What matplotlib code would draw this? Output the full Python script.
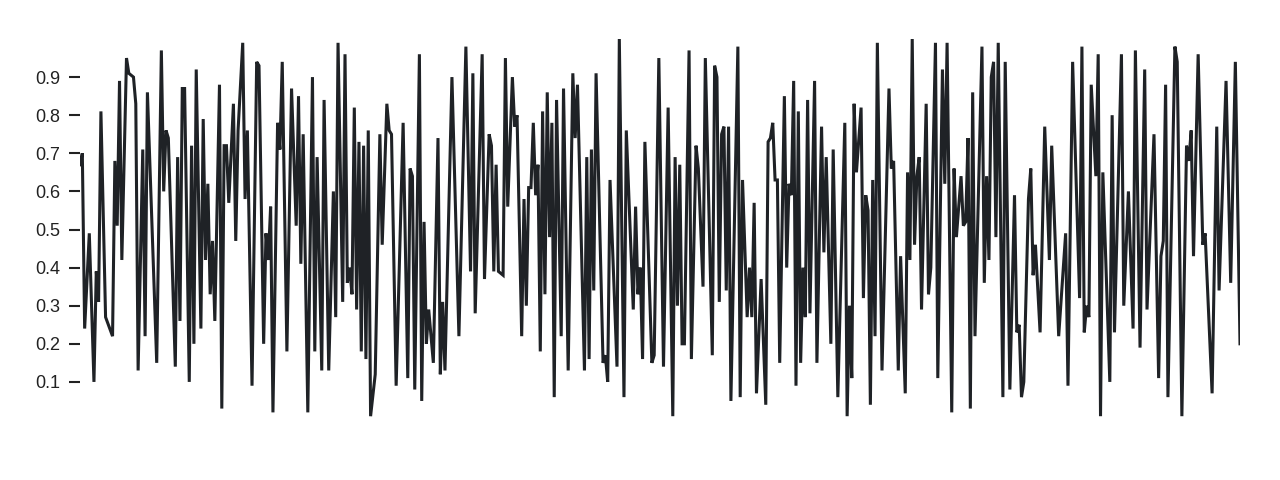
import numpy as np
import matplotlib
matplotlib.use('Agg')
import matplotlib.pyplot as plt

# sample index -> value (peaks and troughs)
idx = [0, 1, 2, 4, 6, 7, 8, 9, 11, 14, 15, 16, 17, 18, 20, 21, 23, 24, 25, 27,
       28, 29, 33, 35, 36, 37, 38,
       41, 42, 43, 44, 45, 47, 48, 49, 50, 52, 53, 54, 55, 56, 57, 58, 60, 61,
       62, 63, 64, 66, 67, 68, 70, 71, 72, 74, 76, 77, 79, 80, 81, 82,
       83, 85, 86, 87, 89, 91, 93, 94, 95, 96, 98, 100, 101, 102, 104, 105,
       107, 109, 110, 111, 113, 114, 115, 116, 117, 118, 119, 120, 121, 122,
       123, 124,
       125, 127, 129, 130, 132, 133, 134, 136, 139, 141, 142, 143, 144, 146,
       147, 148, 149, 150, 152, 154, 155, 156, 157, 160, 163,
       166, 168, 169, 170, 173, 174, 176, 177, 178, 179, 180, 182, 183, 184,
       186, 187, 188, 190, 191, 192, 193, 194, 195, 196, 197, 198, 199, 200,
       201, 202, 203, 204, 205, 207, 208,
       210, 212, 213, 214, 217, 218, 219, 220, 221, 222, 225, 226, 227, 228,
       231, 232, 234, 235, 238, 239, 240, 241, 242, 243, 246, 247, 249,
       251, 253, 255, 256, 257, 258, 259, 260, 262, 263, 265, 266, 268, 269,
       272, 273, 274, 275, 276, 277, 278, 279, 280, 283, 284, 285, 287, 288,
       289, 290, 291,
       293, 295, 296, 297, 298, 299, 300, 301, 303, 304, 305, 306, 307, 308,
       309, 310, 311, 312, 313, 314, 316, 317, 319, 320, 321, 323, 324, 326,
       329, 330, 331, 332, 333, 334,
       336, 337, 338, 339, 340, 341, 342, 343, 345, 348, 349, 350, 352, 353,
       355, 356, 357, 358, 359, 360, 361, 362, 364, 365, 366, 368, 369, 371,
       372, 373, 375, 376,
       377, 379, 380, 381, 382, 383, 384, 385, 388, 389, 390, 391, 392, 393,
       394, 395, 397, 398, 400, 402, 403, 404, 405, 406, 408, 409, 410, 411,
       413, 415, 417, 418,
       421, 424, 425, 427, 430, 431, 432, 433, 434, 435, 437, 438, 439, 440,
       443, 444, 445, 448, 449, 451, 453, 454, 456, 458, 459,
       462, 464, 465, 466, 467, 468, 471, 472, 474, 476, 477, 478, 479, 481,
       483, 484, 487, 489, 490, 493, 495, 497, 499]

values = [0.67, 0.70, 0.24, 0.49, 0.10, 0.39, 0.31, 0.81, 0.27, 0.22, 0.68,
          0.51, 0.89, 0.42, 0.95, 0.91, 0.90, 0.83, 0.13, 0.71,
          0.22, 0.86, 0.15, 0.97, 0.60, 0.76, 0.74,
          0.14, 0.69, 0.26, 0.87, 0.87, 0.10, 0.72, 0.20, 0.92, 0.24, 0.79,
          0.42, 0.62, 0.33, 0.47, 0.26, 0.88, 0.03,
          0.72, 0.72, 0.57, 0.83, 0.47, 0.76, 0.99, 0.58, 0.76, 0.09, 0.94,
          0.93, 0.20, 0.49, 0.42, 0.56,
          0.02, 0.78, 0.71, 0.94, 0.18, 0.87, 0.51, 0.85, 0.41, 0.75, 0.02,
          0.90, 0.18, 0.69, 0.13, 0.84,
          0.13, 0.60, 0.27, 0.99, 0.31, 0.96, 0.36, 0.40, 0.33, 0.82, 0.29,
          0.73, 0.18, 0.72,
          0.16, 0.76,
          0.01, 0.12, 0.75, 0.46, 0.83, 0.76, 0.75, 0.09, 0.78, 0.11, 0.66,
          0.64, 0.08, 0.96,
          0.05, 0.52, 0.20, 0.29, 0.15, 0.74, 0.12, 0.31, 0.13, 0.90, 0.22,
          0.98, 0.39, 0.91, 0.28, 0.96, 0.37, 0.75, 0.72, 0.39, 0.67, 0.39,
          0.38, 0.95, 0.56,
          0.90, 0.77, 0.80, 0.22, 0.58, 0.30, 0.61, 0.61, 0.78, 0.59, 0.67,
          0.18, 0.81, 0.33,
          0.86, 0.48, 0.78, 0.06, 0.84, 0.22, 0.87,
          0.13, 0.91, 0.74, 0.88, 0.13, 0.69, 0.16, 0.71, 0.34, 0.91, 0.15,
          0.17, 0.10, 0.63,
          0.14, 1.00, 0.06, 0.76, 0.29, 0.56, 0.33, 0.40, 0.16, 0.73, 0.15,
          0.17, 0.95,
          0.14, 0.82, 0.01, 0.69, 0.30, 0.67, 0.20, 0.20, 0.97, 0.16, 0.72,
          0.66, 0.35, 0.95,
          0.17, 0.93, 0.90, 0.31, 0.75, 0.77, 0.34, 0.77, 0.05, 0.98, 0.06,
          0.63, 0.27, 0.40,
          0.27, 0.57, 0.07,
          0.37, 0.04, 0.73, 0.74, 0.78, 0.63, 0.63, 0.15, 0.85, 0.40, 0.62,
          0.59, 0.89, 0.09,
          0.81, 0.15, 0.40, 0.27, 0.84, 0.28, 0.89, 0.15, 0.77, 0.44, 0.69,
          0.20, 0.71, 0.06,
          0.78, 0.01, 0.30, 0.11, 0.83, 0.65,
          0.82, 0.32, 0.59, 0.55, 0.04, 0.63, 0.22, 0.99, 0.13, 0.87, 0.66,
          0.68, 0.13, 0.43,
          0.07, 0.65, 0.42, 1.00, 0.46, 0.64, 0.69, 0.29, 0.83, 0.33, 0.40,
          0.99, 0.11, 0.92,
          0.62, 0.99, 0.02, 0.66,
          0.48, 0.64, 0.51, 0.52, 0.74, 0.03, 0.86, 0.22, 0.98, 0.36, 0.64,
          0.42, 0.90, 0.94,
          0.48, 0.99, 0.06, 0.94, 0.08, 0.59, 0.23, 0.25, 0.06, 0.10, 0.58,
          0.66, 0.38, 0.46,
          0.23, 0.77, 0.42, 0.72,
          0.22, 0.49, 0.09, 0.94, 0.32, 0.98, 0.23, 0.30, 0.27, 0.88, 0.64,
          0.96, 0.01, 0.65,
          0.10, 0.80, 0.23, 0.96, 0.30, 0.60, 0.24, 0.97, 0.19, 0.92, 0.29,
          0.75, 0.11, 0.43, 0.47, 0.88, 0.06, 0.98, 0.94, 0.01, 0.72, 0.68,
          0.76, 0.43, 0.96,
          0.46, 0.49, 0.07, 0.77, 0.34, 0.89, 0.36, 0.94, 0.20]

yticks = [0.1, 0.2, 0.3, 0.4, 0.5, 0.6, 0.7, 0.8, 0.9]

plt.rcParams['font.family'] = ['Liberation Sans', 'DejaVu Sans']

fig = plt.figure(figsize=(12.8, 4.8), dpi=100)
ax = fig.add_axes([0.0625, 0.125, 0.90625, 0.79375])

ax.plot(idx, values, color='#1f2226', linewidth=2.2, solid_joinstyle='miter')

ax.set_xlim(0, 499)
ax.set_ylim(0, 1)
ax.set_yticks(yticks)
ax.set_yticklabels([f'{t:.1f}' for t in yticks])
ax.set_xticks([])
for s in ax.spines.values():
    s.set_visible(False)
ax.tick_params(axis='y', direction='out', length=8, width=1.5, pad=6,
               color='#222222', labelcolor='#222222', labelsize=13)

fig.savefig('out.png', dpi=100)
